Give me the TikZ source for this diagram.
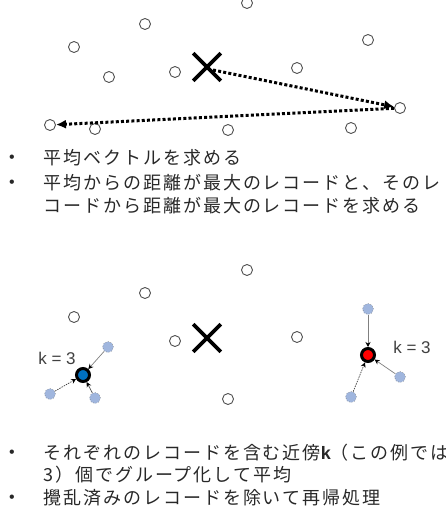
\documentclass[tikz,border=0pt]{standalone}
\usepackage{fontspec}
\setmainfont{Liberation Sans}
\setsansfont{Liberation Sans}
\newfontfamily\jp{Noto Sans CJK JP}[LetterSpace=11]
\usetikzlibrary{arrows.meta,shapes.misc}
\definecolor{ptblue}{RGB}{160,182,222}
\definecolor{ptgray}{RGB}{80,80,80}
\definecolor{cblue}{RGB}{0,112,192}
\definecolor{txt}{RGB}{40,40,40}
\tikzset{
  pt/.style={circle,draw=ptgray,line width=0.9pt,fill=white,minimum size=11pt,inner sep=0pt},
  bpt/.style={circle,draw=gray,dotted,line width=0.6pt,fill=ptblue,minimum size=11pt,inner sep=0pt},
  meanpt/.style={circle,draw=black,line width=3pt,minimum size=13pt,inner sep=0pt},
  xmark/.style={cross out,draw=black,line width=3.6pt,minimum size=24pt,inner sep=0pt},
  bigarrow/.style={line width=3pt,dash pattern=on 3pt off 2.2pt,-{Latex[length=10pt,width=9pt]}},
  nb/.style={draw=gray,line width=0.7pt,-{Stealth[color=black,length=5pt,width=5pt]}},
  nbd/.style={nb,draw=black!75,dash pattern=on 1.5pt off 1pt},
  jtext/.style={anchor=base west,inner sep=0pt,text=txt,align=left,font=\fontsize{18}{23}\selectfont\jp},
  bul/.style={anchor=center,inner sep=0pt,text=txt,font=\fontsize{16}{16}\selectfont},
  klabel/.style={anchor=center,inner sep=0pt,text=black!75,font=\fontsize{17}{17}\selectfont}
}
\begin{document}
\begin{tikzpicture}[x=1pt,y=-1pt]
\clip (0,0) rectangle (445,511);
\path[use as bounding box] (0,0) rectangle (445,511);

% ---- top graph ----
\node[pt] (a1) at (247,3) {};
\node[pt] (a2) at (145,24) {};
\node[pt] (a3) at (74,47) {};
\node[pt] (a4) at (368,40) {};
\node[pt] (a5) at (109,77) {};
\node[pt] (a6) at (175,72) {};
\node[pt] (a7) at (297,68) {};
\node[pt] (a8) at (400,108) {};
\node[pt] (a9) at (50,125) {};
\node[pt] (a10) at (95,129) {};
\node[pt] (a11) at (228,130) {};
\node[pt] (a12) at (351,128) {};
\node[xmark] (ax) at (207,67) {};
\coordinate (axs) at (213,70);
\draw[bigarrow] (axs) -- (a8);
\draw[bigarrow] (a8) -- (a9);

% ---- text 1 ----
\node[bul] (b1) at (12,159) {•};
\node[jtext] (t1) at (43,164) {平均ベクトルを求める};
\node[bul] (b2) at (12,184) {•};
\node[jtext] (t2) at (43,212) {平均からの距離が最大のレコードと、そのレ\\コードから距離が最大のレコードを求める};

% ---- bottom graph ----
\node[pt] (c1) at (247,270) {};
\node[pt] (c2) at (145,293) {};
\node[pt] (c3) at (74,317) {};
\node[pt] (c6) at (175,341) {};
\node[pt] (c7) at (297,337) {};
\node[pt] (c11) at (228,399) {};
\node[xmark] (cx) at (207,338) {};

\node[bpt] (l1) at (108,347) {};
\node[bpt] (l2) at (50,394) {};
\node[bpt] (l3) at (95,398) {};
\node[meanpt,fill=cblue] (lm) at (83,375) {};
\draw[nb] (l1) -- (lm);
\draw[nbd] (l2) -- (lm);
\draw[nb,draw=black!70] (l3) -- (lm);
\node[klabel] (lk) at (57,358) {k = 3};

\node[bpt] (r1) at (368,309) {};
\node[bpt] (r2) at (400,377) {};
\node[bpt] (r3) at (351,397) {};
\node[meanpt,fill=red] (rm) at (368,355) {};
\draw[nb] (r1) -- (rm);
\draw[nb] (r2) -- (rm);
\draw[nbd] (r3) -- (rm);
\node[klabel] (rk) at (412,347) {k = 3};

% ---- text 2 ----
\node[bul] (b3) at (12,454) {•};
\node[jtext] (t3) at (43,481) {それぞれのレコードを含む近傍{\sffamily\bfseries k}（この例では\\[-1pt]3）個でグループ化して平均};
\node[bul] (b4) at (12,499) {•};
\node[jtext] (t4) at (43,504) {攪乱済みのレコードを除いて再帰処理};
\end{tikzpicture}
\end{document}
